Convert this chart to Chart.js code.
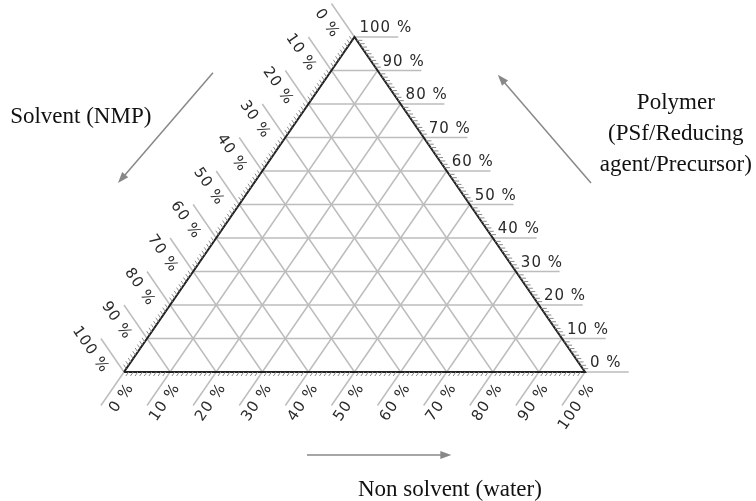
<!DOCTYPE html>
<html>
<head>
<meta charset="utf-8">
<script src="https://cdn.jsdelivr.net/npm/chart.js@4"></script>
<style>
  html, body { margin: 0; padding: 0; background: #fff; }
  #wrap { width: 756px; height: 501px; }
</style>
</head>
<body>
<div id="wrap"><canvas id="ternary" width="756" height="501"></canvas></div>
<script>
// axis ticks, in percent
const polymerTicks = [0, 10, 20, 30, 40, 50, 60, 70, 80, 90, 100];
const solventTicks = [0, 10, 20, 30, 40, 50, 60, 70, 80, 90, 100];
const nonSolventTicks = [0, 10, 20, 30, 40, 50, 60, 70, 80, 90, 100];
const minorStep = 1;

const solventTitle = "Solvent (NMP)";
const polymerTitle = ["Polymer", "(PSf/Reducing", "agent/Precursor)"];
const nonSolventTitle = "Non solvent (water)";

const EXT = 0.1;       // tick line length outside the triangle
const MINOR = 0.012;   // minor tick length

// polymer p and non solvent n as fractions -> x/y on the chart scales
function tern(p, n) {
  return { x: n + p / 2, y: p };
}

function lineSet(points, color, width, order) {
  return {
    data: points,
    showLine: true,
    borderColor: color,
    borderWidth: width,
    pointRadius: 0,
    clip: false,
    order: order
  };
}

const datasets = [];
datasets.push(lineSet([tern(0, 0), tern(0, 1), tern(1, 0), tern(0, 0)], "#222", 2, 0));

polymerTicks.forEach(v => {
  const p = v / 100;
  const end = tern(p, 1 - p);
  datasets.push(lineSet([tern(p, 0), { x: end.x + EXT * 0.95, y: end.y }], "#bdbdbd", 1.5, 1));
});
solventTicks.forEach(v => {
  const s = v / 100;
  const edge = tern(1 - s, 0);
  datasets.push(lineSet([tern(0, 1 - s), edge, { x: edge.x - EXT / 2, y: edge.y + EXT }], "#bdbdbd", 1.5, 1));
});
nonSolventTicks.forEach(v => {
  const n = v / 100;
  const base = tern(0, n);
  datasets.push(lineSet([tern(1 - n, n), base, { x: base.x - EXT / 2, y: base.y - EXT }], "#bdbdbd", 1.5, 1));
});

function toPx(chart, d) {
  return { x: chart.scales.x.getPixelForValue(d.x), y: chart.scales.y.getPixelForValue(d.y) };
}

function unit(a, b) {
  const dx = b.x - a.x, dy = b.y - a.y;
  const len = Math.hypot(dx, dy);
  return { x: dx / len, y: dy / len };
}

function arrow(ctx, a, b) {
  const u = unit(a, b);
  ctx.beginPath();
  ctx.moveTo(a.x, a.y);
  ctx.lineTo(b.x - u.x * 6, b.y - u.y * 6);
  ctx.stroke();
  ctx.beginPath();
  ctx.moveTo(b.x, b.y);
  ctx.lineTo(b.x - u.x * 11 - u.y * 4, b.y - u.y * 11 + u.x * 4);
  ctx.lineTo(b.x - u.x * 11 + u.y * 4, b.y - u.y * 11 - u.x * 4);
  ctx.closePath();
  ctx.fill();
}

const ternaryDecor = {
  id: "ternaryDecor",
  afterDatasetsDraw(chart) {
    const ctx = chart.ctx;
    ctx.save();

    // minor ticks
    ctx.strokeStyle = "#8a8a8a";
    ctx.lineWidth = 1;
    ctx.beginPath();
    for (let i = 0; i <= 100; i += minorStep) {
      if (i % 10 === 0) continue;
      const f = i / 100;
      let a = toPx(chart, tern(f, 1 - f));
      let b = toPx(chart, { x: tern(f, 1 - f).x + MINOR, y: f });
      ctx.moveTo(a.x, a.y); ctx.lineTo(b.x, b.y);
      const l = tern(1 - f, 0);
      a = toPx(chart, l);
      b = toPx(chart, { x: l.x - MINOR / 2, y: l.y + MINOR });
      ctx.moveTo(a.x, a.y); ctx.lineTo(b.x, b.y);
      const bt = tern(0, f);
      a = toPx(chart, bt);
      b = toPx(chart, { x: bt.x - MINOR / 2, y: bt.y - MINOR });
      ctx.moveTo(a.x, a.y); ctx.lineTo(b.x, b.y);
    }
    ctx.stroke();

    // tick labels
    ctx.fillStyle = "#2a2a2a";
    ctx.font = '15px "DejaVu Sans"';
    ctx.letterSpacing = "1px";

    polymerTicks.forEach(v => {
      const p = v / 100;
      const e = toPx(chart, tern(p, 1 - p));
      ctx.textAlign = "left";
      ctx.textBaseline = "alphabetic";
      ctx.fillText(v + " %", e.x + 5, e.y - 5);
    });

    solventTicks.forEach(v => {
      const s = v / 100;
      const l = tern(1 - s, 0);
      const e = toPx(chart, l);
      const o = toPx(chart, { x: l.x - EXT / 2, y: l.y + EXT });
      const u = unit(e, o);
      const w = { x: u.y, y: -u.x };
      ctx.save();
      ctx.translate(e.x + u.x * 11 + w.x * 15, e.y + u.y * 11 + w.y * 15);
      ctx.rotate(Math.atan2(-u.y, -u.x));
      ctx.textAlign = "right";
      ctx.textBaseline = "middle";
      ctx.fillText(v + " %", 0, 0);
      ctx.restore();
    });

    nonSolventTicks.forEach(v => {
      const n = v / 100;
      const bt = tern(0, n);
      const e = toPx(chart, bt);
      const o = toPx(chart, { x: bt.x - EXT / 2, y: bt.y - EXT });
      const u = unit(e, o);
      const w = { x: u.y, y: -u.x };
      ctx.save();
      ctx.translate(e.x + u.x * 7 + w.x * 13, e.y + u.y * 7 + w.y * 13);
      ctx.rotate(Math.atan2(-u.y, -u.x));
      ctx.textAlign = "right";
      ctx.textBaseline = "middle";
      ctx.fillText(v + " %", 0, 0);
      ctx.restore();
    });

    // direction arrows
    ctx.letterSpacing = "0px";
    ctx.strokeStyle = "#888";
    ctx.fillStyle = "#888";
    ctx.lineWidth = 1.5;
    arrow(ctx, toPx(chart, { x: 0.193, y: 0.893 }), toPx(chart, { x: -0.013, y: 0.564 }));
    arrow(ctx, toPx(chart, { x: 1.013, y: 0.564 }), toPx(chart, { x: 0.811, y: 0.887 }));
    arrow(ctx, toPx(chart, { x: 0.397, y: -0.248 }), toPx(chart, { x: 0.71, y: -0.248 }));

    // axis titles
    ctx.fillStyle = "#111";
    ctx.font = '23px "Liberation Serif"';
    ctx.textBaseline = "middle";
    let t = toPx(chart, { x: -0.247, y: 0.761 });
    ctx.textAlign = "left";
    ctx.fillText(solventTitle, t.x, t.y);
    ctx.textAlign = "center";
    polymerTitle.forEach((line, i) => {
      t = toPx(chart, { x: 1.197, y: 0.803 - i * 0.0925 });
      ctx.fillText(line, t.x, t.y);
    });
    t = toPx(chart, { x: 0.707, y: -0.352 });
    ctx.fillText(nonSolventTitle, t.x, t.y);

    ctx.restore();
  }
};

new Chart(document.getElementById("ternary"), {
  type: "scatter",
  data: { datasets: datasets },
  options: {
    responsive: false,
    animation: false,
    layout: { padding: { left: 124, right: 171, top: 37, bottom: 129 } },
    scales: {
      x: { type: "linear", min: 0, max: 1, display: false },
      y: { type: "linear", min: 0, max: 1, display: false }
    },
    plugins: {
      legend: { display: false },
      tooltip: { enabled: false }
    }
  },
  plugins: [ternaryDecor]
});
</script>
</body>
</html>
